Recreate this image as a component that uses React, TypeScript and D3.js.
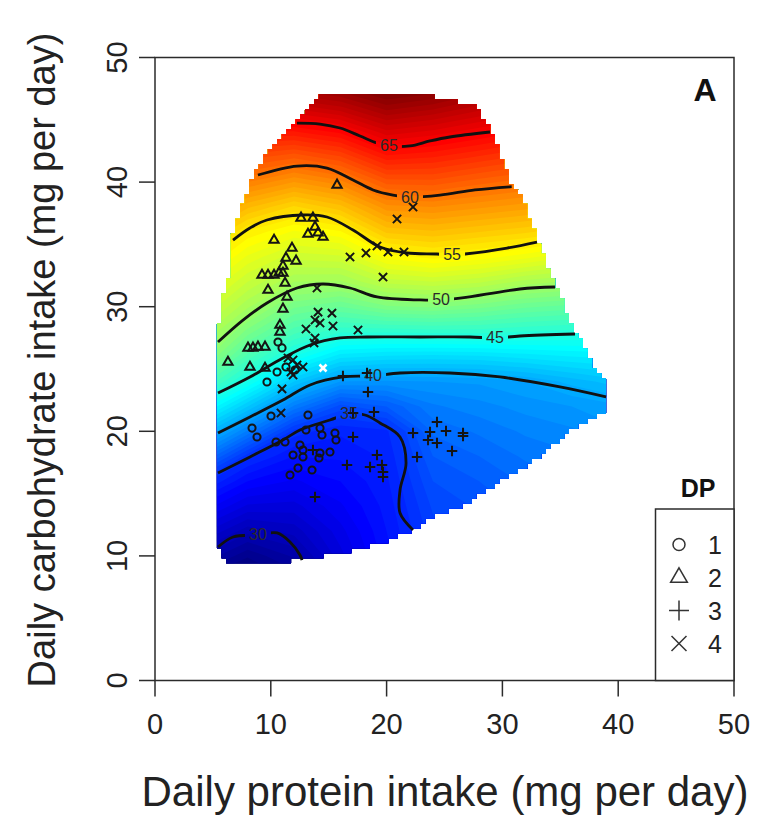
import { useRef, useEffect } from "react";
import * as d3 from "d3";

// Fitted surface: columns = protein, rows = carbohydrate
const proteinGrid = [4, 8, 12, 16, 20, 24, 28, 32, 36, 40];
const carbGrid = [8, 10, 12, 14, 16, 18, 20, 22, 24, 26, 28, 30, 32, 34, 36, 38, 40, 42, 44, 46, 48];
const predictedIntake = [
  [28.3, 27.0, 28.5, 31.3, 33.5, 35.5, 36.0, 36.5, 37.0, 37.5],
  [30.0, 28.6, 29.6, 31.8, 33.8, 35.6, 36.1, 36.7, 37.2, 37.7],
  [31.7, 30.2, 30.7, 32.3, 34.0, 35.8, 36.3, 36.9, 37.4, 37.9],
  [33.4, 31.9, 31.8, 32.9, 34.2, 36.1, 36.6, 37.2, 37.7, 38.2],
  [35.3, 33.5, 32.9, 33.5, 34.4, 36.5, 37.0, 37.6, 38.0, 38.5],
  [38.4, 35.2, 34.0, 34.1, 34.6, 37.0, 37.5, 38.1, 38.4, 38.9],
  [41.5, 38.4, 35.3, 34.6, 34.9, 37.6, 38.1, 38.6, 38.9, 39.4],
  [44.5, 41.5, 38.4, 36.3, 37.0, 38.4, 38.8, 39.2, 39.5, 39.9],
  [47.4, 44.6, 41.5, 39.5, 39.4, 39.5, 39.6, 40.0, 40.7, 41.3],
  [50.1, 46.8, 44.5, 42.7, 42.4, 42.3, 42.4, 42.7, 43.0, 43.2],
  [51.4, 48.8, 46.7, 45.6, 45.6, 45.7, 45.7, 45.5, 45.3, 45.1],
  [52.7, 50.6, 48.6, 48.0, 48.9, 49.1, 48.7, 48.1, 47.8, 47.6],
  [54.0, 52.0, 50.5, 50.4, 51.7, 52.0, 51.6, 50.8, 50.4, 50.1],
  [55.5, 53.4, 52.2, 52.4, 54.2, 54.7, 54.3, 53.7, 53.0, 52.6],
  [57.3, 54.9, 53.9, 54.4, 56.6, 56.9, 56.5, 56.1, 55.5, 55.0],
  [59.1, 57.1, 55.9, 56.8, 58.8, 59.0, 58.6, 58.2, 57.7, 57.1],
  [61.0, 59.5, 58.5, 59.3, 61.2, 61.3, 60.7, 60.2, 59.8, 59.3],
  [63.0, 61.7, 61.1, 61.9, 63.8, 63.5, 62.9, 62.3, 61.8, 61.2],
  [65.0, 63.9, 63.9, 64.6, 66.3, 65.8, 65.1, 64.4, 63.8, 63.1],
  [67.0, 66.1, 66.7, 67.4, 68.8, 68.2, 67.3, 66.6, 65.8, 65.0],
  [69.0, 68.3, 69.5, 70.0, 71.0, 70.6, 69.5, 68.8, 67.8, 66.9],
];

// outline of the area where the surface is shown
const fitRegion = [
  [14.42, 47.0], [23.06, 47.0], [25.22, 46.6], [27.81, 46.03], [28.93, 44.18], [30.05, 41.77],
  [30.8, 39.63], [31.52, 39.13], [32.99, 35.59], [34.37, 32.14], [35.84, 28.93], [37.56, 25.72],
  [39.03, 23.72], [39.03, 21.55], [35.84, 20.1], [33.25, 17.94], [30.92, 16.65], [28.67, 15.29],
  [26.34, 13.92], [24.01, 13.12], [22.28, 12.08], [19.43, 11.04], [17.44, 10.55], [13.99, 9.91],
  [10.1, 9.43], [6.22, 9.43], [5.79, 10.23], [5.35, 10.87], [5.35, 26.93], [5.79, 30.54],
  [6.3, 32.14], [6.65, 33.19], [6.74, 35.91], [7.34, 37.52], [8.38, 40.17], [8.89, 41.21],
  [9.93, 42.58], [11.05, 43.62], [12.26, 44.74], [13.39, 45.95], [13.99, 46.59],
];

// contour lines [protein, carbohydrate]
const contour30 = [[5.44, 10.71], [6.74, 11.52], [8.89, 11.68], [10.54, 11.84], [11.66, 11.12], [12.52, 10.07], [12.69, 9.67]];
const contour35 = [[5.44, 16.65], [8.2, 17.94], [11.05, 19.3], [12.52, 20.1], [15.11, 20.91], [16.75, 21.39], [18.13, 21.31], [19.43, 20.67], [21.16, 19.54], [21.68, 17.46], [21.16, 15.29], [21.16, 13.44], [22.28, 12.08]];
const contour40 = [[5.44, 19.86], [8.2, 21.15], [11.05, 22.51], [13.39, 23.72], [16.23, 24.36], [18.83, 24.44], [21.16, 24.68], [25.47, 24.68], [29.79, 24.36], [34.97, 23.56], [38.95, 22.76]];
const contour45 = [[5.44, 23.07], [8.2, 24.36], [11.05, 25.88], [13.39, 26.93], [15.98, 27.49], [18.31, 27.57], [22.88, 27.57], [27.2, 27.57], [29.36, 27.49], [31.52, 27.65], [36.27, 27.81]];
const contour50 = [[5.44, 27.17], [7.6, 28.93], [9.67, 30.3], [12.26, 31.5], [14.51, 31.82], [16.84, 31.5], [19.17, 30.78], [22.88, 30.54], [24.7, 30.54], [26.51, 30.7], [31.52, 31.42], [34.54, 31.58]];
const contour55 = [[6.74, 35.35], [8.2, 36.32], [9.67, 36.96], [12.78, 37.36], [14.85, 37.2], [17.1, 36.16], [19.43, 34.79], [21.76, 34.31], [24.35, 34.23], [25.65, 34.15], [26.77, 34.23], [30.4, 34.71], [32.99, 35.19]];
const contour60 = [[8.89, 40.57], [12.26, 41.29], [14.85, 41.13], [17.1, 40.17], [18.83, 39.37], [20.55, 38.96], [22.02, 38.8], [24.61, 38.96], [27.63, 39.37], [30.8, 39.63]];
const contour65 = [[12.26, 44.74], [14.25, 44.66], [15.98, 44.34], [17.7, 43.7], [19.17, 43.14], [20.2, 42.9], [22.02, 42.9], [23.75, 43.3], [25.47, 43.62], [28.93, 44.02]];

// [level, protein, carbohydrate]
const contourLabels = [
  [30, 8.89, 11.68], [35, 16.75, 21.39], [40, 18.83, 24.44], [45, 29.36, 27.49],
  [50, 24.7, 30.54], [55, 25.65, 34.15], [60, 22.02, 38.8], [65, 20.2, 42.9],
];

// observations by DP group [protein, carbohydrate]
const dp1Points = [
  [10.62, 27.17], [10.97, 26.69], [10.54, 24.76], [11.31, 25.16], [12.09, 24.92], [9.67, 23.96],
  [10.02, 21.23], [13.21, 21.31], [8.38, 20.26], [8.81, 19.54], [10.45, 19.14], [11.23, 19.14],
  [13.04, 20.1], [14.25, 20.26], [14.42, 19.7], [15.54, 19.86], [15.63, 19.3], [12.52, 18.9],
  [12.78, 18.5], [11.92, 18.1], [12.78, 17.94], [14.25, 18.26], [14.16, 17.86], [15.11, 18.34],
  [12.35, 17.05], [13.56, 16.89], [11.66, 16.49],
];
const dp2Points = [
  [15.72, 39.77], [12.61, 37.12], [13.64, 37.12], [13.82, 36.4], [13.21, 35.83], [14.08, 35.92],
  [14.51, 35.59], [10.28, 35.35], [11.83, 34.71], [11.31, 33.91], [12.18, 33.67], [11.05, 33.27],
  [9.24, 32.54], [9.76, 32.54], [10.28, 32.54], [10.71, 32.7], [11.05, 32.7], [11.23, 31.9],
  [9.76, 31.34], [11.4, 30.78], [11.05, 29.82], [10.79, 28.53], [10.79, 27.97], [8.03, 26.69],
  [8.46, 26.69], [8.89, 26.77], [9.5, 26.77], [6.3, 25.56], [8.2, 25.16], [9.5, 25.08],
];
const dp3Points = [
  [16.23, 24.44], [18.31, 24.68], [18.39, 23.16], [17.1, 21.47], [18.91, 21.55], [17.1, 19.54],
  [13.64, 18.5], [16.58, 17.3], [19.17, 18.1], [19.6, 17.3], [18.57, 17.14], [19.69, 16.73],
  [19.69, 16.33], [13.82, 14.73], [22.28, 19.86], [22.63, 17.94], [24.35, 20.75], [23.75, 19.94],
  [25.13, 20.02], [26.6, 19.86], [26.6, 19.62], [23.58, 19.3], [24.35, 19.06], [25.65, 18.42],
];
const dp4Points = [
  [20.9, 37.04], [22.28, 38.0], [16.84, 33.99], [18.22, 34.31], [19.17, 34.87], [20.12, 34.39],
  [21.5, 34.39], [19.69, 32.38], [13.99, 31.5], [14.08, 29.57], [15.28, 29.49], [13.82, 28.93],
  [14.25, 28.69], [15.37, 28.45], [13.04, 28.21], [17.53, 28.13], [13.82, 27.49], [13.73, 27.09],
  [11.49, 25.88], [11.92, 25.72], [12.26, 25.32], [12.78, 25.16], [11.74, 24.76], [11.92, 24.52],
  [10.97, 23.4], [10.88, 21.47],
];
const optimumPoint = [14.51, 25.08];

const dpGroups = ["1", "2", "3", "4"];
const xTicks = [0, 10, 20, 30, 40, 50];
const yTicks = [0, 10, 20, 30, 40, 50];

const FONT = "'Liberation Sans', Arial, Helvetica, sans-serif";

export default function App() {
  const svgRef = useRef(null);

  useEffect(() => {
    const width = 760;
    const height = 823;
    const svg = d3.select(svgRef.current);
    svg.selectAll("*").remove();
    svg.attr("width", width).attr("height", height);

    const x = d3.scaleLinear().domain([0, 50]).range([155, 734]);
    const y = d3.scaleLinear().domain([0, 50]).range([680.5, 57.5]);

    // jet colour ramp
    const jet = d3.scaleLinear()
      .domain([28, 33.25, 43.75, 54.25, 64.75, 70])
      .range(["#00007f", "#0000ff", "#00ffff", "#ffff00", "#ff0000", "#7f0000"])
      .clamp(true);

    const defs = svg.append("defs");

    // staircase outline made of grid cells inside the fit region
    const cell = 0.4;
    const [gx0, gx1] = d3.extent(fitRegion, (d) => d[0]);
    const [gy0, gy1] = d3.extent(fitRegion, (d) => d[1]);
    const nx = Math.ceil((gx1 - gx0) / cell);
    const ny = Math.ceil((gy1 - gy0) / cell);
    let clipD = "";
    for (let j = 0; j < ny; j++) {
      const cy = gy0 + j * cell;
      let run = -1;
      for (let i = 0; i <= nx; i++) {
        const inside = i < nx && d3.polygonContains(fitRegion, [gx0 + (i + 0.5) * cell, cy + cell / 2]);
        if (inside && run < 0) run = i;
        if (!inside && run >= 0) {
          const xa = x(gx0 + run * cell), xb = x(gx0 + i * cell);
          const ya = y(cy + cell) - 0.3, yb = y(cy) + 0.3;
          clipD += `M${xa},${ya}H${xb}V${yb}H${xa}Z`;
          run = -1;
        }
      }
    }
    defs.append("clipPath").attr("id", "fit-clip").append("path").attr("d", clipD);

    // heat map bands
    const dx = proteinGrid.length;
    const dy = carbGrid.length;
    const stepX = proteinGrid[1] - proteinGrid[0];
    const stepY = carbGrid[1] - carbGrid[0];
    const toPixels = d3.geoTransform({
      point(px, py) {
        this.stream.point(x(proteinGrid[0] + (px - 0.5) * stepX), y(carbGrid[0] + (py - 0.5) * stepY));
      },
    });
    const bandPath = d3.geoPath(toPixels);
    const bands = d3.contours().size([dx, dy]).thresholds(d3.range(24, 74, 0.5))(predictedIntake.flat());

    svg.append("g")
      .attr("clip-path", "url(#fit-clip)")
      .selectAll("path")
      .data(bands)
      .join("path")
      .attr("d", bandPath)
      .attr("fill", (d) => jet(d.value + 0.25));

    // gaps in the contour lines where labels sit
    const mask = defs.append("mask").attr("id", "label-gaps")
      .attr("maskUnits", "userSpaceOnUse")
      .attr("x", 0).attr("y", 0).attr("width", width).attr("height", height);
    mask.append("rect").attr("width", width).attr("height", height).attr("fill", "white");
    mask.selectAll("rect.gap")
      .data(contourLabels)
      .join("rect")
      .attr("class", "gap")
      .attr("x", (d) => x(d[1]) - 13).attr("y", (d) => y(d[2]) - 9)
      .attr("width", 26).attr("height", 18)
      .attr("fill", "black");

    const contourLines = [contour30, contour35, contour40, contour45, contour50, contour55, contour60, contour65];
    const line = d3.line().x((d) => x(d[0])).y((d) => y(d[1])).curve(d3.curveCatmullRom.alpha(0.5));

    svg.append("g")
      .attr("mask", "url(#label-gaps)")
      .selectAll("path")
      .data(contourLines)
      .join("path")
      .attr("d", (d) => line(d))
      .attr("fill", "none")
      .attr("stroke", "#111")
      .attr("stroke-width", 2.8);

    svg.append("g")
      .selectAll("text")
      .data(contourLabels)
      .join("text")
      .attr("x", (d) => x(d[1]))
      .attr("y", (d) => y(d[2]))
      .attr("text-anchor", "middle")
      .attr("dominant-baseline", "central")
      .attr("font-family", FONT)
      .attr("font-size", 16)
      .attr("fill", "#2a2a2a")
      .text((d) => d[0]);

    // observations
    const groups = [
      { data: dp1Points, type: d3.symbolCircle, size: 40, legendSize: 113 },
      { data: dp2Points, type: d3.symbolTriangle2, size: 62, legendSize: 200 },
      { data: dp3Points, type: d3.symbolPlus, size: 38, legendSize: 132 },
      { data: dp4Points, type: d3.symbolTimes, size: 46, legendSize: 148 },
    ];
    const pts = svg.append("g");
    groups.forEach((g) => {
      const shape = d3.symbol().type(g.type).size(g.size)();
      pts.append("g")
        .selectAll("path")
        .data(g.data)
        .join("path")
        .attr("transform", (d) => `translate(${x(d[0])},${y(d[1])})`)
        .attr("d", shape)
        .attr("fill", "none")
        .attr("stroke", "#141414")
        .attr("stroke-width", 2);
    });
    pts.append("path")
      .attr("transform", `translate(${x(optimumPoint[0])},${y(optimumPoint[1])})`)
      .attr("d", d3.symbol().type(d3.symbolTimes).size(34)())
      .attr("fill", "none")
      .attr("stroke", "#fff")
      .attr("stroke-width", 2.6);

    // frame and axes
    const axisColor = "#2b2b2b";
    svg.append("rect")
      .attr("x", x(0)).attr("y", y(50))
      .attr("width", x(50) - x(0)).attr("height", y(0) - y(50))
      .attr("fill", "none").attr("stroke", axisColor).attr("stroke-width", 1.5);

    const tickLen = 16;
    const xAxisG = svg.append("g");
    xAxisG.selectAll("line")
      .data(xTicks)
      .join("line")
      .attr("x1", (d) => x(d)).attr("x2", (d) => x(d))
      .attr("y1", y(0)).attr("y2", y(0) + tickLen)
      .attr("stroke", axisColor).attr("stroke-width", 1.5);
    xAxisG.selectAll("text")
      .data(xTicks)
      .join("text")
      .attr("x", (d) => x(d)).attr("y", 734)
      .attr("text-anchor", "middle")
      .attr("font-family", FONT).attr("font-size", 29).attr("fill", "#222")
      .text((d) => d);

    const yAxisG = svg.append("g");
    yAxisG.selectAll("line")
      .data(yTicks)
      .join("line")
      .attr("x1", x(0) - tickLen).attr("x2", x(0))
      .attr("y1", (d) => y(d)).attr("y2", (d) => y(d))
      .attr("stroke", axisColor).attr("stroke-width", 1.5);
    yAxisG.selectAll("text")
      .data(yTicks)
      .join("text")
      .attr("transform", (d) => `translate(127,${y(d)}) rotate(-90)`)
      .attr("text-anchor", "middle")
      .attr("font-family", FONT).attr("font-size", 29).attr("fill", "#222")
      .text((d) => d);

    svg.append("text")
      .attr("x", 445).attr("y", 806)
      .attr("text-anchor", "middle")
      .attr("font-family", FONT).attr("font-size", 42).attr("fill", "#222")
      .text("Daily protein intake (mg per day)");

    svg.append("text")
      .attr("transform", "translate(55,360) rotate(-90)")
      .attr("text-anchor", "middle")
      .attr("font-family", FONT).attr("font-size", 38).attr("fill", "#222")
      .text("Daily carbohydrate intake (mg per day)");

    svg.append("text")
      .attr("x", 705).attr("y", 101)
      .attr("text-anchor", "middle")
      .attr("font-family", FONT).attr("font-size", 32).attr("font-weight", "bold").attr("fill", "#111")
      .text("A");

    // legend
    const lg = svg.append("g");
    lg.append("rect")
      .attr("x", 655.5).attr("y", 509)
      .attr("width", x(50) - 655.5).attr("height", y(0) - 509)
      .attr("fill", "#fff").attr("stroke", axisColor).attr("stroke-width", 1.5);
    lg.append("text")
      .attr("x", 698).attr("y", 497)
      .attr("text-anchor", "middle")
      .attr("font-family", FONT).attr("font-size", 25).attr("font-weight", "bold").attr("fill", "#111")
      .text("DP");
    dpGroups.forEach((label, i) => {
      const row = lg.append("g").attr("transform", `translate(0,${544.5 + i * 33})`);
      row.append("path")
        .attr("transform", "translate(679,0)")
        .attr("d", d3.symbol().type(groups[i].type).size(groups[i].legendSize)())
        .attr("fill", "none").attr("stroke", "#333").attr("stroke-width", 1.5);
      row.append("text")
        .attr("x", 715).attr("y", 0)
        .attr("text-anchor", "middle").attr("dominant-baseline", "central")
        .attr("font-family", FONT).attr("font-size", 25).attr("fill", "#222")
        .text(label);
    });
  }, []);

  return <svg ref={svgRef} style={{ position: "absolute", left: 0, top: 0 }}></svg>;
}
